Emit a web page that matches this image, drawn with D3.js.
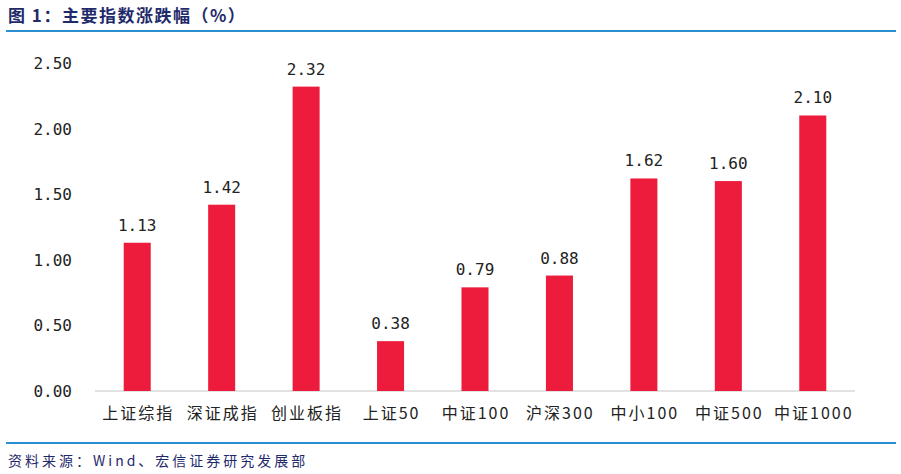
<!DOCTYPE html>
<html><head><meta charset="utf-8">
<script src="https://cdn.jsdelivr.net/npm/d3@7"></script>
<style>body{margin:0;background:#fff;} text{font-family:"DejaVu Sans Mono","Noto Sans CJK SC",monospace;}</style>
</head><body>
<svg id="chart" width="901" height="474"></svg>
<script>
var categories = ['上证综指','深证成指','创业板指','上证50','中证100','沪深300','中小100','中证500','中证1000'];
var values = [1.13, 1.42, 2.32, 0.38, 0.79, 0.88, 1.62, 1.60, 2.10];
var yTicks = [0, 0.5, 1, 1.5, 2, 2.5];

var svg = d3.select('#chart');
var cjk = '"Noto Sans CJK SC", sans-serif';

svg.append('text').attr('x', 8).attr('y', 22)
  .style('font-family', cjk).style('font-weight', 'bold').style('font-size', '17px')
  .style('letter-spacing', '1.5px')
  .attr('fill', '#1f2a6b').text('图 1：主要指数涨跌幅（%）');
svg.append('line').attr('x1', 6).attr('x2', 896).attr('y1', 31).attr('y2', 31)
  .attr('stroke', '#2a8fd0').attr('stroke-width', 2);
svg.append('line').attr('x1', 6).attr('x2', 896).attr('y1', 443).attr('y2', 443)
  .attr('stroke', '#2a8fd0').attr('stroke-width', 2);
svg.append('text').attr('x', 8).attr('y', 466)
  .style('font-family', cjk).style('font-size', '14px').style('letter-spacing', '3px')
  .attr('fill', '#1f2a6b').text('资料来源：Wind、宏信证券研究发展部');

var x = d3.scaleBand().domain(categories).range([95, 855]).paddingInner(0.68).paddingOuter(0.34);
var y = d3.scaleLinear().domain([0, 2.5]).range([391, 63]);

svg.selectAll('.ytick').data(yTicks).enter().append('text')
  .attr('x', 72).attr('y', function(d) { return y(d) + 6; })
  .attr('text-anchor', 'end').style('font-size', '16px').attr('fill', '#222')
  .text(function(d) { return d.toFixed(2); });

svg.append('line').attr('x1', 95).attr('x2', 855).attr('y1', y(0)).attr('y2', y(0))
  .attr('stroke', '#d9d9d9').attr('stroke-width', 1.5);

svg.selectAll('.bar').data(values).enter().append('rect')
  .attr('x', function(d, i) { return x(categories[i]); })
  .attr('width', x.bandwidth())
  .attr('y', function(d) { return y(d); })
  .attr('height', function(d) { return y(0) - y(d); })
  .attr('fill', '#ee1c3c');

svg.selectAll('.lbl').data(values).enter().append('text')
  .attr('x', function(d, i) { return x(categories[i]) + x.bandwidth() / 2; })
  .attr('y', function(d) { return y(d) - 12; })
  .attr('text-anchor', 'middle').style('font-size', '16px').attr('fill', '#222')
  .text(function(d) { return d.toFixed(2); });

svg.selectAll('.cat').data(categories).enter().append('text')
  .attr('x', function(d) { return x(d) + x.bandwidth() / 2 + 1; })
  .attr('y', 419).attr('text-anchor', 'middle')
  .style('font-family', cjk).style('font-size', '16px').style('letter-spacing', '2px')
  .attr('fill', '#222')
  .text(function(d) { return d; });
</script>
</body></html>
